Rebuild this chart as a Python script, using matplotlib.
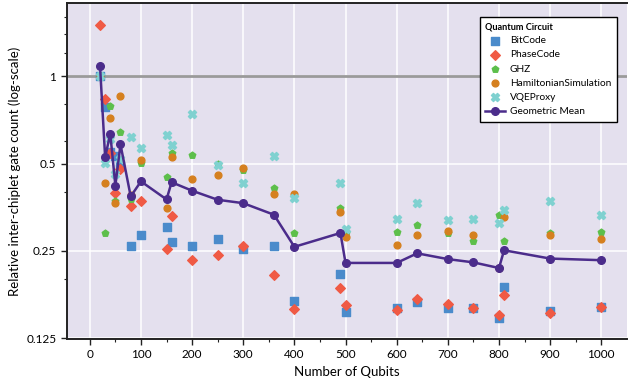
import matplotlib
matplotlib.use("Agg")
import matplotlib.pyplot as plt
from matplotlib.ticker import FixedLocator, NullFormatter

plt.rcParams['font.family'] = ['Lato', 'DejaVu Sans']

# qubit counts on the x axis
qubits = [20, 30, 40, 50, 60, 80, 100, 150, 160, 200, 250, 300, 360, 400,
          490, 500, 600, 640, 700, 750, 800, 810, 900, 1000]

# relative inter-chiplet gate counts per circuit
bitcode = [1.0, 0.785, 0.55, 0.533, 0.49, 0.26, 0.284, 0.303, 0.269, 0.26, 0.275, 0.254,
           0.26, 0.168, 0.208, 0.154, 0.159, 0.166, 0.159, 0.159, 0.147, 0.187, 0.155, 0.160]
phasecode = [1.5, 0.835, 0.544, 0.397, 0.477, 0.358, 0.371, 0.253, 0.329, 0.232, 0.241, 0.26,
             0.207, 0.158, 0.186, 0.163, 0.156, 0.170, 0.164, 0.159, 0.150, 0.176, 0.152, 0.160]
ghz = [1.0, 0.287, 0.788, 0.37, 0.644, 0.378, 0.502, 0.448, 0.544, 0.537, 0.497, 0.474,
       0.413, 0.288, 0.352, 0.288, 0.290, 0.307, 0.288, 0.270, 0.331, 0.271, 0.288, 0.291]
hamiltonian = [1.0, 0.428, 0.716, 0.365, 0.857, 0.388, 0.513, 0.351, 0.526, 0.444, 0.455, 0.484,
               0.394, 0.394, 0.339, 0.279, 0.261, 0.283, 0.292, 0.284, 0.218, 0.327, 0.283, 0.275]
vqeproxy = [1.0, 0.502, 0.61, 0.46, 0.52, 0.617, 0.567, 0.629, 0.578, 0.74, 0.496, 0.427,
            0.531, 0.381, 0.430, 0.297, 0.322, 0.365, 0.319, 0.323, 0.311, 0.347, 0.371, 0.331]
geomean = [1.085, 0.526, 0.634, 0.420, 0.582, 0.385, 0.434, 0.376, 0.431, 0.403, 0.375, 0.365,
           0.333, 0.258, 0.288, 0.227, 0.227, 0.245, 0.234, 0.228, 0.218, 0.251, 0.235, 0.232]

y_ticks = [0.125, 0.25, 0.5, 1]
y_tick_labels = ['0.125', '0.25', '0.5', '1']
y_minor = [0.2, 0.4, 0.6, 0.8, 1.2, 1.4, 1.6]

fig = plt.figure(figsize=(6.3, 3.87), dpi=100)
ax = fig.add_axes([0.106, 0.124, 0.889, 0.868])
ax.set_facecolor('#E4E0EE')

ax.set_yscale('log', base=2)
ax.set_xlim(-45, 1050)
ax.set_ylim(0.124, 1.79)

# grid on major ticks only
ax.grid(True, which='major', color='white', linewidth=1.1)
ax.set_axisbelow(True)

# reference line at 1
ax.axhline(1.0, color='#9a9a9a', linewidth=2, zorder=1)

ax.scatter(qubits, bitcode, marker='s', s=30, color='#4A8BCB', label='BitCode', zorder=3)
ax.scatter(qubits, phasecode, marker='D', s=24, color='#F05A44', label='PhaseCode', zorder=3)
ax.scatter(qubits, ghz, marker='p', s=24, color='#5DBF4B', label='GHZ', zorder=3)
ax.scatter(qubits, hamiltonian, marker='o', s=24, color='#D5801F',
           label='HamiltonianSimulation', zorder=3)
ax.scatter(qubits, vqeproxy, marker='X', s=34, color='#7FD1D0', label='VQEProxy', zorder=3)
ax.plot(qubits, geomean, marker='o', markersize=5.5, linewidth=1.8, color='#4B2C8B',
        label='Geometric Mean', zorder=4)

ax.yaxis.set_major_locator(FixedLocator(y_ticks))
ax.set_yticklabels(y_tick_labels)
ax.yaxis.set_minor_locator(FixedLocator(y_minor))
ax.yaxis.set_minor_formatter(NullFormatter())

ax.set_xticks(range(0, 1001, 100))
ax.set_xticks(range(50, 1001, 100), minor=True)

ax.tick_params(axis='both', which='major', labelsize=8.5, length=4, width=1, color='#222222')
ax.tick_params(axis='both', which='minor', length=2.5, width=0.8, color='#222222')

for side in ['left', 'bottom', 'top']:
    ax.spines[side].set_color('#222222')
    ax.spines[side].set_linewidth(1.4)
ax.spines['right'].set_visible(False)

ax.set_xlabel('Number of Qubits', fontsize=9.5)
ax.set_ylabel('Relative inter-chiplet gate count (log-scale)', fontsize=9.5)

leg = ax.legend(title='Quantum Circuit', loc='upper right', bbox_to_anchor=(0.991, 0.975),
                fontsize=7.3, title_fontsize=6.6, frameon=True, fancybox=False,
                edgecolor='black', framealpha=1, alignment='left',
                handlelength=1.9, borderpad=0.55, labelspacing=0.5, handletextpad=0.5)
leg.get_title().set_fontweight('bold')
leg.get_frame().set_linewidth(1.0)

fig.savefig('out.png', dpi=100)
